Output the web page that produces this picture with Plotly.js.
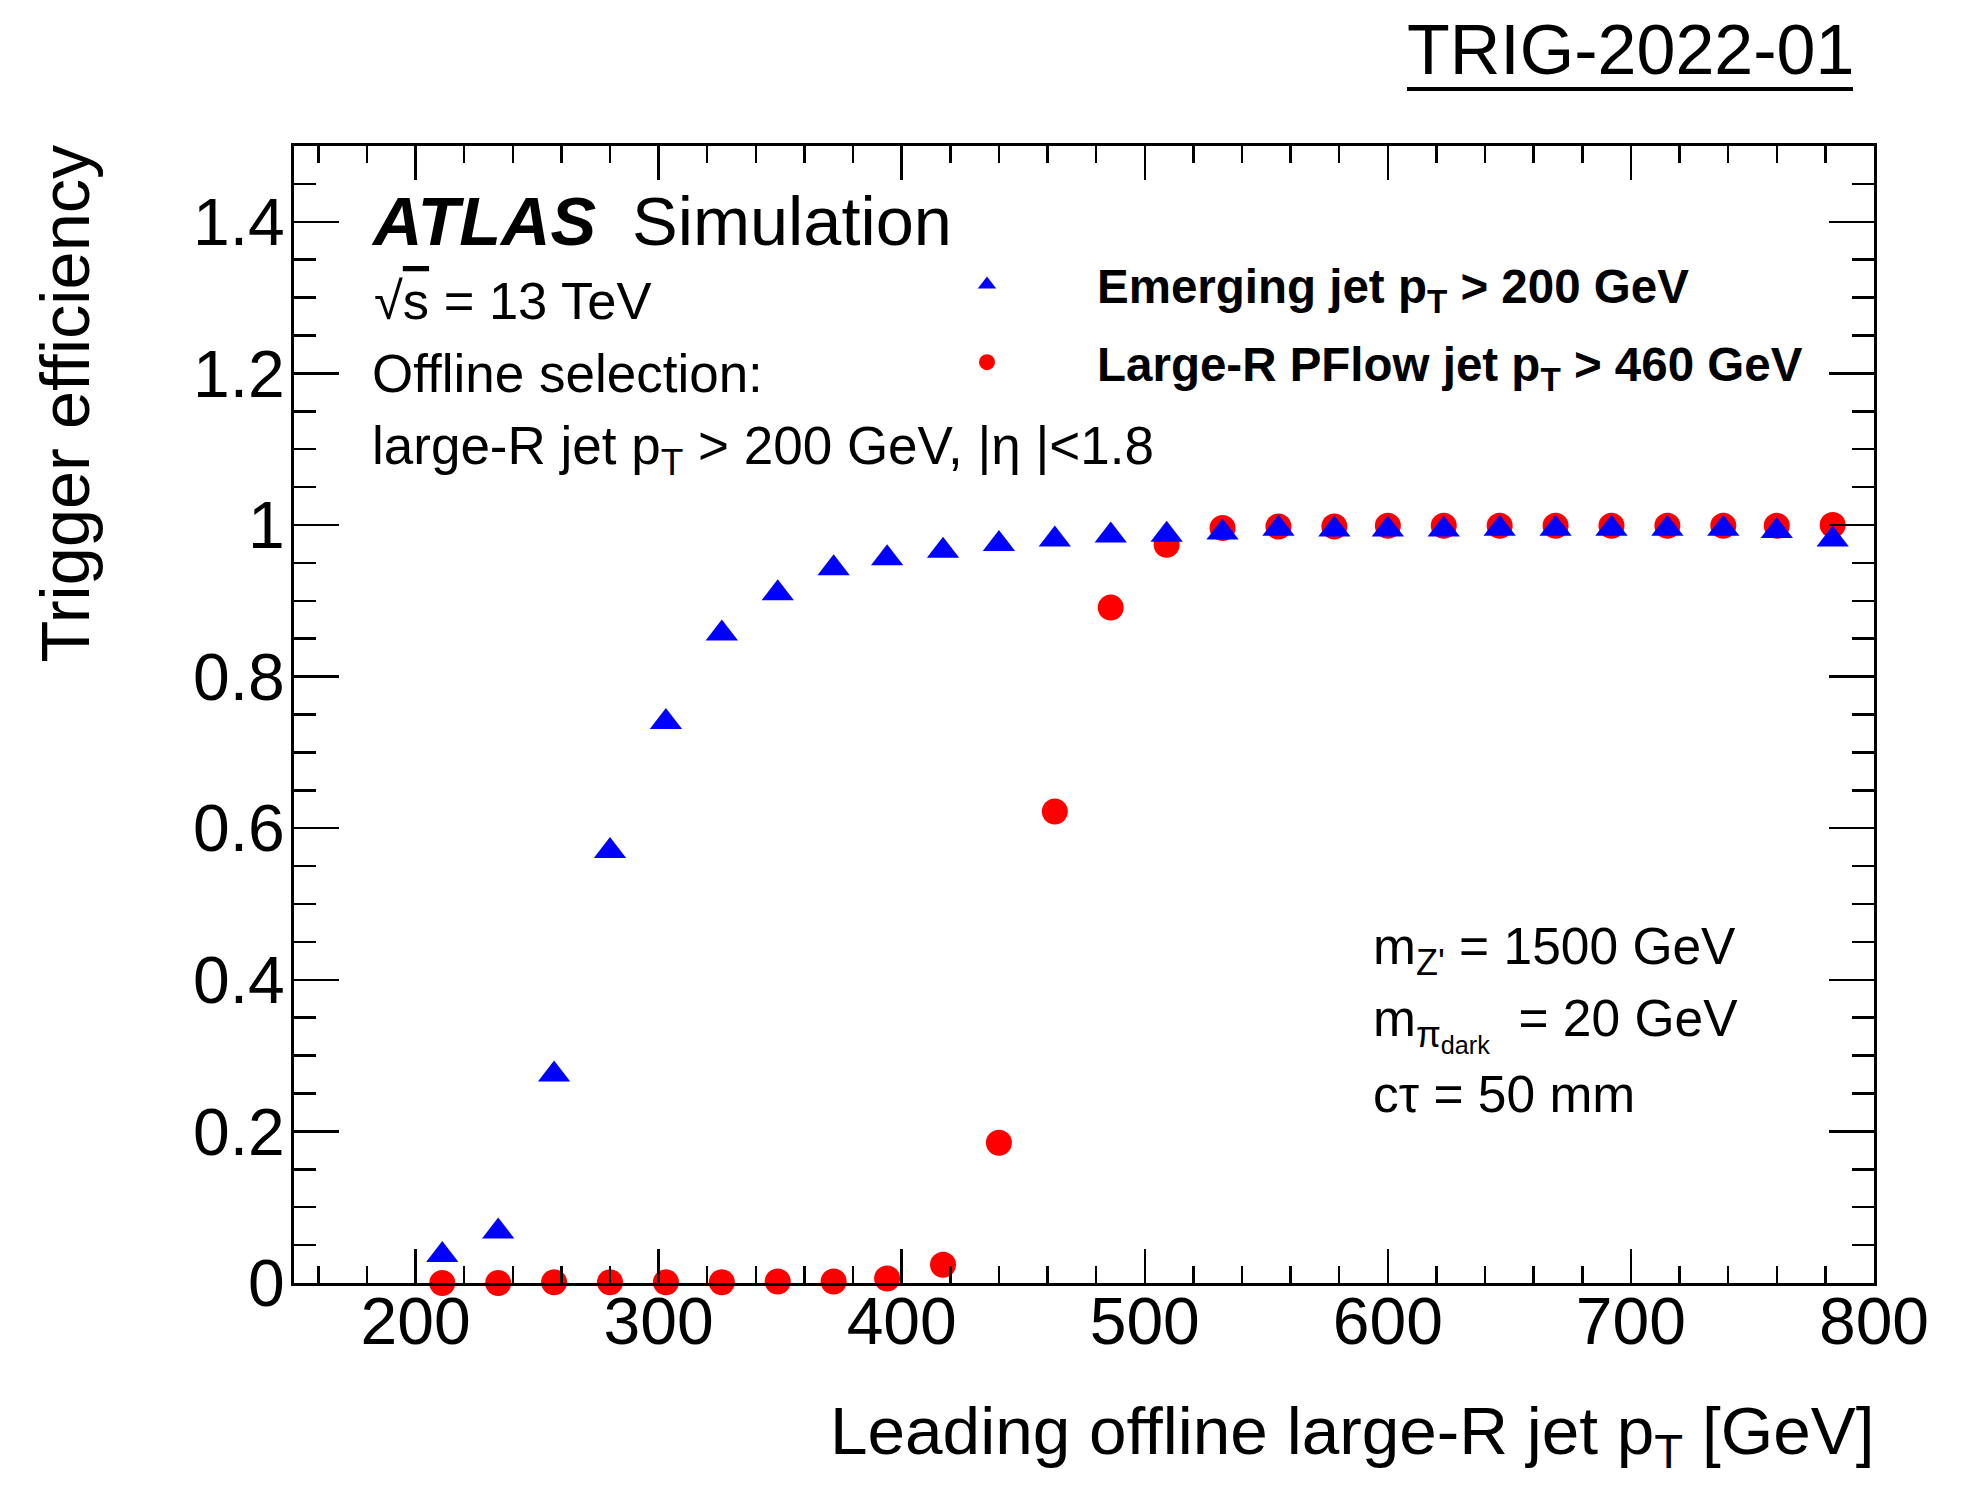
<!DOCTYPE html>
<html>
<head>
<meta charset="utf-8">
<script src="https://cdn.plot.ly/plotly-3.0.1.min.js"></script>
<style>
  html, body { margin: 0; padding: 0; background: #ffffff; }
  #plot { width: 1962px; height: 1487px; }
</style>
</head>
<body>
<div id="plot"></div>
<script>
// Bin centres of the leading offline large-R jet pT [GeV]
const jetPt = [211, 234, 257, 280, 303, 326, 349, 372, 394, 417, 440, 463, 486,
               509, 532, 555, 578, 600, 623, 646, 669, 692, 715, 738, 760, 783];

// Trigger efficiency: emerging jet pT > 200 GeV
const effEmerging = [0.037, 0.068, 0.275, 0.570, 0.740, 0.857, 0.910, 0.943, 0.956,
                     0.966, 0.975, 0.981, 0.986, 0.987, 0.990, 0.995, 0.994, 0.994,
                     0.994, 0.995, 0.995, 0.995, 0.995, 0.995, 0.992, 0.981];

// Trigger efficiency: large-R PFlow jet pT > 460 GeV
const effLargeR = [0.000, 0.000, 0.001, 0.001, 0.001, 0.001, 0.002, 0.002, 0.006,
                   0.024, 0.185, 0.622, 0.891, 0.974, 0.996, 0.998, 0.998, 0.999,
                   0.999, 0.999, 0.999, 0.999, 0.999, 0.999, 0.999, 1.000];

const xTickVals = [200, 300, 400, 500, 600, 700, 800];
const yTickVals = [0, 0.2, 0.4, 0.6, 0.8, 1, 1.2, 1.4];
const yTickText = ['0', '0.2', '0.4', '0.6', '0.8', '1', '1.2', '1.4'];

const seriesNames = [
  '<b>Emerging jet p<sub>T</sub> &gt; 200 GeV</b>',
  '<b>Large-R PFlow jet p<sub>T</sub> &gt; 460 GeV</b>'
];

// ---- page geometry (pixels) ----
const W = 1962, H = 1487;
const M = { l: 294, r: 88, t: 146, b: 204 };
const plotW = W - M.l - M.r, plotH = H - M.t - M.b;
const px = x => (x - M.l) / plotW;           // page x -> paper x
const py = y => (H - M.b - y) / plotH;       // page y -> paper y

const FONT = 'Liberation Sans, Arial, Helvetica, sans-serif';
const BLACK = '#000000';

function label(text, x, y, size, extra) {
  return Object.assign({
    text: text, xref: 'paper', yref: 'paper', x: px(x), y: py(y),
    xanchor: 'left', yanchor: 'middle', showarrow: false,
    font: { family: FONT, size: size, color: BLACK }
  }, extra || {});
}

const traces = [
  {
    x: jetPt, y: effLargeR, type: 'scatter', mode: 'markers',
    name: seriesNames[1], legendrank: 2, legendgroup: 'b',
    marker: { symbol: 'circle', size: 26, color: '#ff0000', line: { width: 0 } },
    cliponaxis: false
  },
  {
    x: jetPt, y: effEmerging, type: 'scatter', mode: 'markers',
    name: seriesNames[0], legendrank: 1, legendgroup: 'a',
    marker: { symbol: 'triangle-up', size: 28, color: '#0000ff', line: { width: 0 } },
    cliponaxis: false
  }
];

const axisCommon = {
  showgrid: false, zeroline: false, showline: true, linecolor: BLACK, linewidth: 3,
  mirror: 'allticks', ticks: 'inside', tickcolor: BLACK, tickwidth: 2.5,
  tickfont: { family: FONT, size: 66, color: BLACK }, fixedrange: true
};

const layout = {
  width: W, height: H,
  margin: M,
  paper_bgcolor: '#ffffff', plot_bgcolor: '#ffffff',
  font: { family: FONT, color: BLACK },
  showlegend: true,
  legend: {
    x: px(877), y: py(247), xanchor: 'left', yanchor: 'top',
    bgcolor: 'rgba(0,0,0,0)', borderwidth: 0,
    font: { family: FONT, size: 47.5, color: BLACK },
    itemwidth: 210, traceorder: 'grouped', tracegroupgap: 13,
    valign: 'middle', itemclick: false, itemdoubleclick: false
  },
  xaxis: Object.assign({}, axisCommon, {
    range: [150, 800], tickmode: 'array', tickvals: xTickVals,
    ticklen: 34, ticklabelstandoff: -21,
    minor: { dtick: 20, tick0: 0, ticklen: 17, tickwidth: 2.5, tickcolor: BLACK, ticks: 'inside', showgrid: false }
  }),
  yaxis: Object.assign({}, axisCommon, {
    range: [0, 1.5], tickmode: 'array', tickvals: yTickVals, ticktext: yTickText,
    ticklen: 45, ticklabelstandoff: -7,
    minor: { dtick: 0.05, tick0: 0, ticklen: 22, tickwidth: 2.5, tickcolor: BLACK, ticks: 'inside', showgrid: false }
  }),
  annotations: [
    label('<b><i>ATLAS</i></b>', 369, 221, 68.5),
    label('Simulation', 630, 221, 68.5),
    label('√<span style="text-decoration:overline">s</span> = 13 TeV', 372, 300, 52.5),
    label('Offline selection:', 370, 373, 53),
    label('large-R jet p<sub>T</sub> &gt; 200 GeV, |η |&lt;1.8', 370, 449, 53),
    label('m<sub>Z\'</sub> = 1500 GeV', 1371, 950, 51.5),
    label('m<sub>π<sub>dark</sub></sub>  = 20 GeV', 1371, 1024, 51.5),
    label('cτ = 50 mm', 1371, 1094, 51.5),
    // axis titles, aligned to the axis ends
    label('Leading offline large-R jet p<sub>T</sub> [GeV]', 1877, 1435, 67.5, { xanchor: 'right' }),
    label('Trigger efficiency', 65, 142, 68.5, { xanchor: 'center', yanchor: 'top', textangle: -90 }),
    // publication reference
    {
      text: 'TRIG-2022-01', xref: 'paper', yref: 'paper', x: px(1630), y: py(50),
      xanchor: 'center', yanchor: 'middle', showarrow: false,
      font: { family: FONT, size: 70, color: BLACK }
    }
  ],
  shapes: [
    {
      type: 'line', xref: 'paper', yref: 'paper',
      x0: px(1407), x1: px(1853), y0: py(89), y1: py(89),
      line: { color: BLACK, width: 4 }
    }
  ]
};

Plotly.newPlot('plot', traces, layout, { displayModeBar: false, staticPlot: true });
</script>
</body>
</html>
